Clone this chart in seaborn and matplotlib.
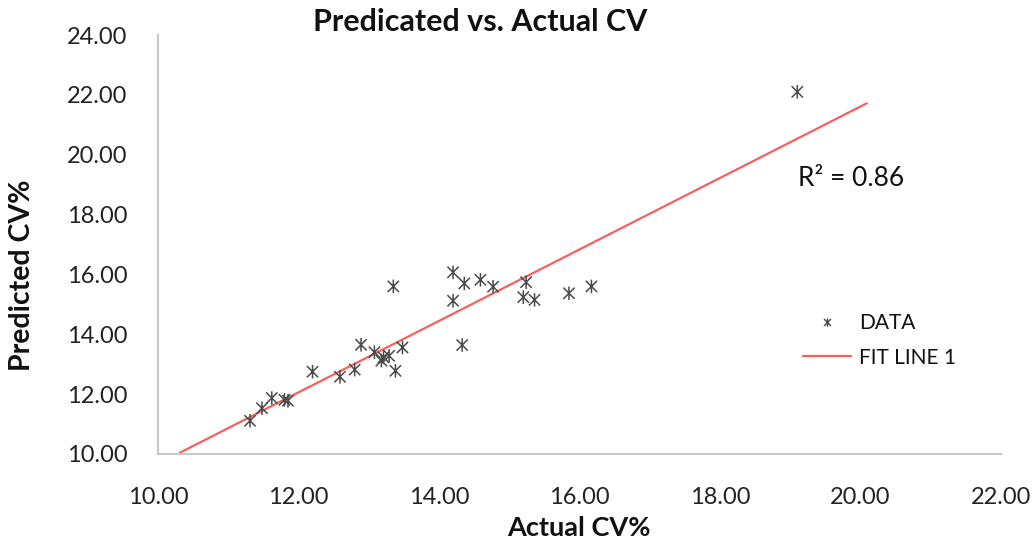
import numpy as np
import pandas as pd
import matplotlib
matplotlib.use("Agg")
import matplotlib.pyplot as plt
from matplotlib.path import Path
from matplotlib.lines import Line2D
import seaborn as sns

# ---- data ----
actual = [11.31, 11.48, 11.62, 11.80, 11.85, 12.20, 12.59, 12.80, 12.89, 13.08,
          13.18, 13.21, 13.29, 13.38, 13.48, 13.35, 14.20, 14.36, 14.59, 14.77,
          14.20, 14.33, 15.24, 15.20, 15.36, 15.85, 16.17, 19.10]
predicted = [11.11, 11.53, 11.87, 11.81, 11.78, 12.75, 12.58, 12.82, 13.65, 13.40,
             13.12, 13.23, 13.28, 12.78, 13.56, 15.60, 16.07, 15.70, 15.82, 15.59,
             15.12, 13.64, 15.74, 15.24, 15.15, 15.37, 15.60, 22.10]
fit_x_range = [10.31, 20.09]
x_ticks = [10, 12, 14, 16, 18, 20, 22]
y_ticks = [10, 12, 14, 16, 18, 20, 22, 24]
r2_label = "R\u00b2 = 0.86"

sns.set_theme(style="white")
plt.rcParams['font.family'] = ['Lato', 'DejaVu Sans']

fig = plt.figure(figsize=(10.36, 5.44), dpi=100)
ax = fig.add_axes([158/1036, 1-454/544, (1001-158)/1036, (454-35)/544])

df = pd.DataFrame({"Actual": actual, "Predicted": predicted})

star = Path([(-1, -1), (1, 1), (-1, 1), (1, -1), (0, -1.2), (0, 1.2)],
            [Path.MOVETO, Path.LINETO, Path.MOVETO, Path.LINETO, Path.MOVETO, Path.LINETO])

mark_col = '#4a4a4a'
sns.scatterplot(data=df, x="Actual", y="Predicted", marker=star, s=95,
                facecolor='none', edgecolor=mark_col, linewidth=1.1, ax=ax, zorder=3)

slope, intercept = np.polyfit(actual, predicted, 1)
fx = np.array(fit_x_range)
fy = slope * fx + intercept
line_col = '#f4615f'
sns.lineplot(x=fx, y=fy, color=line_col, linewidth=1.6, ax=ax, zorder=2)

ax.set_xlim(10, 22)
ax.set_ylim(10, 24)
ax.set_xticks(x_ticks)
ax.set_yticks(y_ticks)
ax.set_xticklabels([f"{v:.2f}" for v in x_ticks])
ax.set_yticklabels([f"{v:.2f}" for v in y_ticks])
ax.tick_params(axis='x', length=0, pad=24, labelsize=17, colors='#222222')
ax.tick_params(axis='y', length=0, pad=22, labelsize=17, colors='#222222')
ax.set_xlabel("")
ax.set_ylabel("")
for s in ['top', 'right']:
    ax.spines[s].set_visible(False)
for s in ['left', 'bottom']:
    ax.spines[s].set_color('#c8c8c8')
    ax.spines[s].set_linewidth(1.5)
ax.grid(False)

fig.text(480/1036, 1-22/544, "Predicated vs. Actual CV", ha='center', va='center',
         fontsize=22, fontweight='bold', color='#111111')
fig.text(579/1036, 1-528/544, "Actual CV%", ha='center', va='center',
         fontsize=19.5, fontweight='bold', color='#111111')
fig.text(22/1036, 1-275/544, "Predicted CV%", ha='center', va='center', rotation=90,
         fontsize=20.5, fontweight='bold', color='#111111')
ax.text(851/1036, 1-178/544, r2_label, transform=fig.transFigure, ha='center', va='center',
        fontsize=19, color='#111111')

handles = [Line2D([], [], linestyle='none', marker=star, markersize=6,
                  markerfacecolor='none', markeredgecolor=mark_col, markeredgewidth=1.0),
           Line2D([], [], color=line_col, linewidth=1.6)]
leg = ax.legend(handles, ["DATA", "FIT LINE 1"], loc='upper left',
                bbox_to_anchor=(803/1036, 1-313/544), bbox_transform=fig.transFigure,
                frameon=False, fontsize=15, handlelength=2.3, handletextpad=0.4,
                labelspacing=0.7, borderpad=0, borderaxespad=0)
for t in leg.get_texts():
    t.set_color('#111111')

fig.savefig("out.png", dpi=100)
